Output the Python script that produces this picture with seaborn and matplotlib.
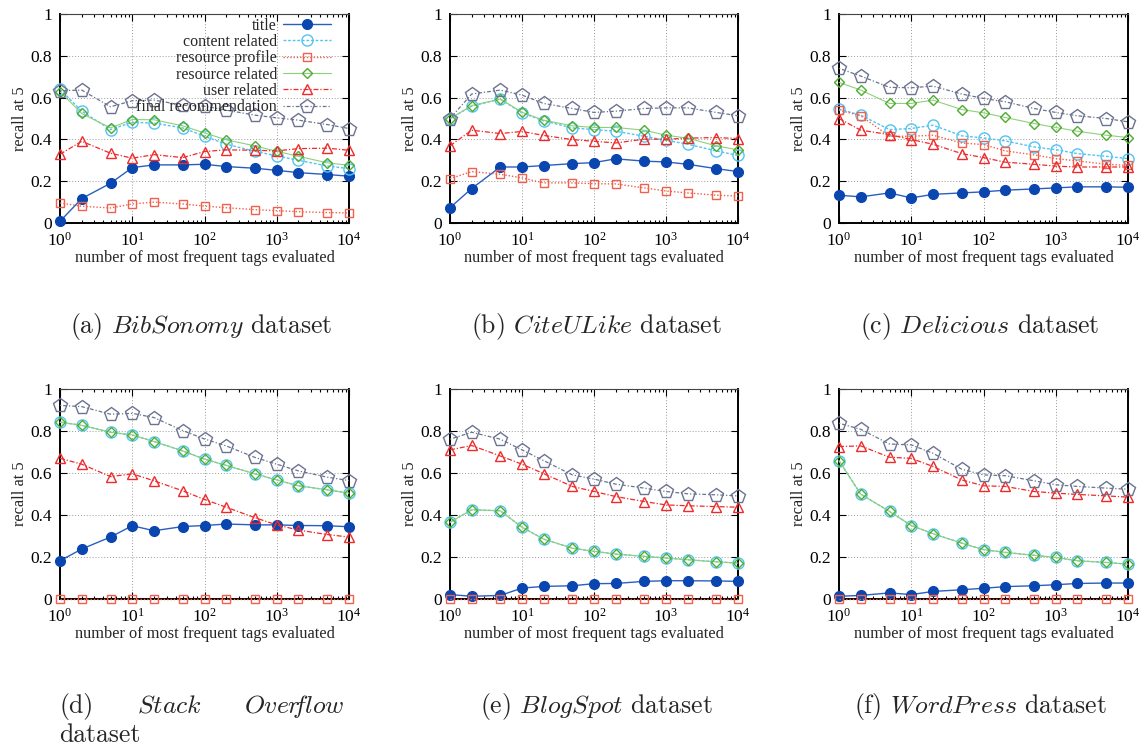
import matplotlib
matplotlib.use("Agg")
import matplotlib.pyplot as plt
import matplotlib.ticker as mticker
import numpy as np
import pandas as pd
import seaborn as sns

# number of most frequent tags evaluated
tags_evaluated = [1, 2, 5, 10, 20, 50, 100, 200, 500, 1000, 2000, 5000, 10000]

series_names = ["title", "content related", "resource profile",
                "resource related", "user related", "final recommendation"]

# (a) BibSonomy
bibsonomy_title = [0.008, 0.117, 0.19, 0.265, 0.278, 0.278, 0.281, 0.27, 0.262, 0.252, 0.241, 0.232, 0.224]
bibsonomy_content = [0.64, 0.535, 0.447, 0.482, 0.478, 0.455, 0.415, 0.377, 0.343, 0.321, 0.30, 0.273, 0.26]
bibsonomy_profile = [0.096, 0.08, 0.072, 0.091, 0.10, 0.091, 0.081, 0.073, 0.064, 0.059, 0.054, 0.05, 0.048]
bibsonomy_resource = [0.628, 0.524, 0.455, 0.495, 0.494, 0.465, 0.431, 0.398, 0.369, 0.343, 0.319, 0.288, 0.276]
bibsonomy_user = [0.329, 0.391, 0.334, 0.31, 0.327, 0.313, 0.342, 0.35, 0.348, 0.345, 0.356, 0.358, 0.348]
bibsonomy_final = [0.633, 0.636, 0.556, 0.585, 0.588, 0.564, 0.559, 0.54, 0.516, 0.503, 0.492, 0.471, 0.452]

# (b) CiteULike
citeulike_title = [0.073, 0.165, 0.268, 0.268, 0.275, 0.284, 0.289, 0.307, 0.296, 0.292, 0.281, 0.26, 0.246]
citeulike_content = [0.50, 0.559, 0.593, 0.527, 0.489, 0.455, 0.447, 0.439, 0.415, 0.396, 0.377, 0.345, 0.323]
citeulike_profile = [0.212, 0.246, 0.233, 0.216, 0.192, 0.192, 0.188, 0.187, 0.168, 0.153, 0.144, 0.133, 0.129]
citeulike_resource = [0.498, 0.562, 0.593, 0.53, 0.492, 0.465, 0.457, 0.457, 0.444, 0.42, 0.406, 0.369, 0.35]
citeulike_user = [0.369, 0.444, 0.428, 0.438, 0.419, 0.399, 0.391, 0.383, 0.401, 0.401, 0.406, 0.409, 0.404]
citeulike_final = [0.50, 0.617, 0.636, 0.612, 0.572, 0.548, 0.529, 0.535, 0.548, 0.551, 0.551, 0.529, 0.513]

# (c) Delicious
delicious_title = [0.133, 0.125, 0.144, 0.12, 0.137, 0.144, 0.149, 0.157, 0.163, 0.168, 0.173, 0.173, 0.171]
delicious_content = [0.545, 0.516, 0.447, 0.452, 0.468, 0.417, 0.407, 0.393, 0.364, 0.351, 0.332, 0.319, 0.308]
delicious_profile = [0.54, 0.513, 0.415, 0.415, 0.42, 0.383, 0.375, 0.345, 0.326, 0.308, 0.297, 0.281, 0.276]
delicious_resource = [0.673, 0.636, 0.572, 0.572, 0.588, 0.543, 0.527, 0.505, 0.476, 0.457, 0.439, 0.42, 0.409]
delicious_user = [0.50, 0.444, 0.423, 0.399, 0.377, 0.332, 0.313, 0.291, 0.281, 0.272, 0.268, 0.268, 0.268]
delicious_final = [0.74, 0.703, 0.649, 0.647, 0.655, 0.617, 0.596, 0.58, 0.548, 0.529, 0.513, 0.50, 0.484]

# (d) Stack Overflow
stackoverflow_title = [0.182, 0.238, 0.295, 0.349, 0.325, 0.345, 0.35, 0.357, 0.353, 0.353, 0.35, 0.349, 0.344]
stackoverflow_content = [0.842, 0.827, 0.794, 0.781, 0.75, 0.705, 0.666, 0.636, 0.596, 0.567, 0.539, 0.52, 0.504]
stackoverflow_profile = [0.0, 0.0, 0.0, 0.0, 0.0, 0.0, 0.0, 0.0, 0.0, 0.0, 0.0, 0.0, 0.0]
stackoverflow_resource = [0.842, 0.827, 0.794, 0.781, 0.75, 0.705, 0.666, 0.636, 0.596, 0.567, 0.539, 0.52, 0.504]
stackoverflow_user = [0.67, 0.642, 0.583, 0.596, 0.563, 0.515, 0.474, 0.437, 0.387, 0.353, 0.328, 0.307, 0.295]
stackoverflow_final = [0.922, 0.916, 0.88, 0.884, 0.864, 0.802, 0.762, 0.729, 0.674, 0.642, 0.61, 0.58, 0.564]

# (e) BlogSpot
blogspot_title = [0.021, 0.013, 0.017, 0.052, 0.06, 0.063, 0.073, 0.074, 0.084, 0.087, 0.087, 0.086, 0.084]
blogspot_content = [0.365, 0.425, 0.42, 0.342, 0.285, 0.242, 0.227, 0.214, 0.203, 0.195, 0.187, 0.177, 0.171]
blogspot_profile = [0.0, 0.0, 0.0, 0.0, 0.0, 0.0, 0.0, 0.0, 0.0, 0.0, 0.0, 0.0, 0.0]
blogspot_resource = [0.365, 0.425, 0.42, 0.342, 0.285, 0.242, 0.227, 0.214, 0.203, 0.195, 0.187, 0.177, 0.171]
blogspot_user = [0.71, 0.731, 0.681, 0.642, 0.597, 0.536, 0.512, 0.488, 0.464, 0.448, 0.444, 0.44, 0.437]
blogspot_final = [0.761, 0.794, 0.761, 0.71, 0.659, 0.591, 0.571, 0.547, 0.528, 0.512, 0.501, 0.496, 0.491]

# (f) WordPress
wordpress_title = [0.013, 0.017, 0.029, 0.021, 0.036, 0.044, 0.051, 0.059, 0.063, 0.068, 0.074, 0.076, 0.076]
wordpress_content = [0.659, 0.499, 0.417, 0.35, 0.311, 0.266, 0.235, 0.222, 0.208, 0.198, 0.182, 0.174, 0.166]
wordpress_profile = [0.0, 0.0, 0.0, 0.0, 0.0, 0.0, 0.0, 0.0, 0.0, 0.0, 0.0, 0.0, 0.0]
wordpress_resource = [0.659, 0.499, 0.417, 0.35, 0.311, 0.266, 0.235, 0.222, 0.208, 0.198, 0.182, 0.174, 0.166]
wordpress_user = [0.726, 0.729, 0.675, 0.67, 0.631, 0.567, 0.539, 0.536, 0.512, 0.504, 0.498, 0.491, 0.485]
wordpress_final = [0.837, 0.808, 0.738, 0.734, 0.694, 0.618, 0.591, 0.587, 0.563, 0.544, 0.536, 0.528, 0.523]

datasets = [
    ("(a)", ["BibSonomy"], [bibsonomy_title, bibsonomy_content, bibsonomy_profile,
                            bibsonomy_resource, bibsonomy_user, bibsonomy_final]),
    ("(b)", ["CiteULike"], [citeulike_title, citeulike_content, citeulike_profile,
                            citeulike_resource, citeulike_user, citeulike_final]),
    ("(c)", ["Delicious"], [delicious_title, delicious_content, delicious_profile,
                            delicious_resource, delicious_user, delicious_final]),
    ("(d)", ["Stack", r"Over\!\!flow"], [stackoverflow_title, stackoverflow_content, stackoverflow_profile,
                                         stackoverflow_resource, stackoverflow_user, stackoverflow_final]),
    ("(e)", ["BlogSpot"], [blogspot_title, blogspot_content, blogspot_profile,
                           blogspot_resource, blogspot_user, blogspot_final]),
    ("(f)", ["WordPress"], [wordpress_title, wordpress_content, wordpress_profile,
                            wordpress_resource, wordpress_user, wordpress_final]),
]

# line / marker style of every series
styles = {
    "title": dict(ls="-", lw=1.0, marker="o", ms=7.0,
                  mfc="#0a46b0", mec="#0a46b0", mew=1.0, lc="#2a5fc0"),
    "content related": dict(ls=(0, (2.0, 1.3)), lw=1.0, marker="o", ms=8.0,
                            mfc="none", mec="#52c4f2", mew=1.0, lc="#52c4f2"),
    "resource profile": dict(ls=(0, (1.0, 1.4)), lw=1.0, marker="s", ms=6.4,
                             mfc="none", mec="#f0604c", mew=1.0, lc="#f0604c"),
    "resource related": dict(ls="-", lw=0.8, marker="D", ms=5.2,
                             mfc="none", mec="#4cad2e", mew=1.0, lc="#8fd07c"),
    "user related": dict(ls=(0, (4.0, 1.5, 1.0, 1.5)), lw=0.9, marker="^", ms=6.6,
                         mfc="none", mec="#f02a2a", mew=1.0, lc="#f02a2a"),
    "final recommendation": dict(ls=(0, (1.0, 1.6, 3.0, 1.6)), lw=0.9, marker="p", ms=10.8,
                                 mfc="none", mec="#6b7390", mew=1.0, lc="#6b7390"),
}

sns.set_theme(style="ticks")
plt.rcParams["font.family"] = ["Liberation Serif", "DejaVu Serif"]
plt.rcParams["mathtext.fontset"] = "cm"
plt.rcParams["font.size"] = 11.5

fig = plt.figure(figsize=(11.42, 7.47), dpi=100)
W, H = 1142.0, 747.0

# axes rectangles in pixels: left, top, right, bottom
rects = [(60, 14, 349, 223), (450, 14, 738, 223), (839, 14, 1128, 223),
         (60, 389, 349, 599), (450, 389, 738, 599), (839, 389, 1128, 599)]
caption_centers = [201, 596, 980]
caption_size = 18.5

for idx, ((tag, name_words, values), (l, t, r, b)) in enumerate(zip(datasets, rects)):
    ax = fig.add_axes([l / W, 1 - b / H, (r - l) / W, (b - t) / H])
    for name, yvals in zip(series_names, values):
        st = styles[name]
        df = pd.DataFrame({"tags": tags_evaluated, "recall": yvals})
        sns.lineplot(data=df, x="tags", y="recall", ax=ax, color=st["lc"],
                     linestyle=st["ls"], linewidth=st["lw"], marker=st["marker"],
                     markersize=st["ms"], markerfacecolor=st["mfc"],
                     markeredgecolor=st["mec"], markeredgewidth=st["mew"],
                     label=name, clip_on=False, zorder=3)

    ax.set_xscale("log")
    ax.set_xlim(1, 10000)
    ax.set_ylim(0, 1)
    ax.xaxis.set_major_locator(mticker.LogLocator(base=10, numticks=10))
    ax.xaxis.set_minor_locator(mticker.LogLocator(base=10, subs=np.arange(2, 10), numticks=10))
    ax.xaxis.set_major_formatter(mticker.LogFormatterSciNotation())
    ax.xaxis.set_minor_formatter(mticker.NullFormatter())
    ax.yaxis.set_major_locator(mticker.MultipleLocator(0.2))
    ax.yaxis.set_major_formatter(mticker.FuncFormatter(lambda v, p: f"{v:g}"))

    ax.grid(True, which="major", color="#9a9a9a", linestyle=(0, (1, 2)), linewidth=0.7)
    ax.tick_params(which="both", direction="in", top=True, right=True,
                   colors="black", labelsize=12.5, width=0.8)
    ax.tick_params(which="major", length=5)
    ax.tick_params(axis="x", which="major", pad=6.2)
    ax.tick_params(axis="y", which="major", pad=5.5)
    ax.tick_params(which="minor", length=2.5)
    for side in ["left", "bottom", "right"]:
        ax.spines[side].set_linewidth(1.4)
        ax.spines[side].set_color("black")
    ax.spines["top"].set_linewidth(0.8)
    ax.spines["top"].set_color("#444444")

    ax.set_xlabel("number of most frequent tags evaluated", fontsize=11.8, va="top")
    ax.xaxis.set_label_coords(0.5, -0.128)
    ax.set_ylabel("recall at 5", fontsize=11.8)
    ax.yaxis.set_label_coords(-0.11, 0.5)

    if idx == 0:
        ax.legend(loc="upper right", bbox_to_anchor=(0.936, 0.982), frameon=False,
                  markerfirst=False, handlelength=3.0, handletextpad=0.35,
                  labelspacing=0.02, borderaxespad=0.0, borderpad=0.0, fontsize=11.5)
    else:
        leg = ax.get_legend()
        if leg is not None:
            leg.remove()

    # sub-figure caption
    cx = caption_centers[idx % 3]
    if len(name_words) == 1:
        cy = 1 - 326 / H if idx < 3 else 1 - 706 / H
        fig.text(cx / W, cy, tag + r" $\mathit{" + name_words[0] + r"}$ dataset",
                 ha="center", va="center", fontsize=caption_size, family="cmr10")
    else:
        cy = 1 - 706 / H
        fig.text(59 / W, cy, tag, ha="left", va="center", fontsize=caption_size, family="cmr10")
        fig.text(137 / W, cy, r"$\mathit{" + name_words[0] + r"}$", ha="left", va="center",
                 fontsize=caption_size, family="cmr10")
        fig.text(344 / W, cy, r"$\mathit{" + name_words[1] + r"}$", ha="right", va="center",
                 fontsize=caption_size, family="cmr10")
        fig.text(59 / W, 1 - 735 / H, "dataset", ha="left", va="center",
                 fontsize=caption_size, family="cmr10")

fig.savefig("out.png", dpi=100)
